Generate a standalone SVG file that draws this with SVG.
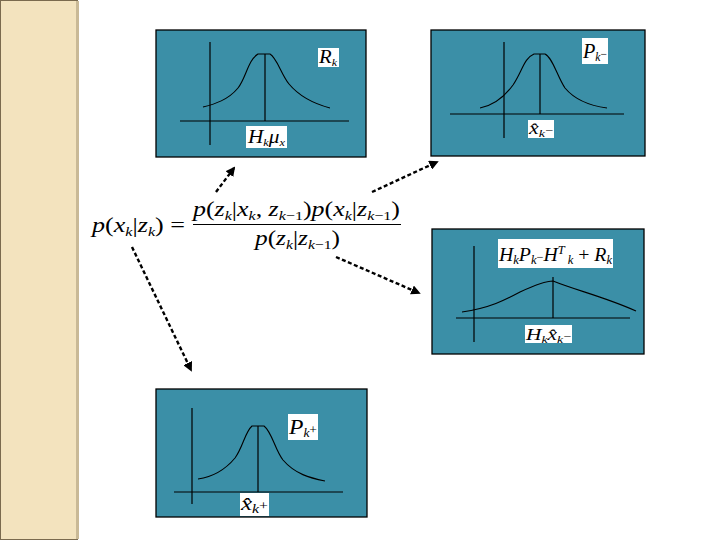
<svg xmlns="http://www.w3.org/2000/svg" width="720" height="540" viewBox="0 0 720 540">
<defs>
<marker id="ah" viewBox="0 0 10 10" refX="8" refY="5" markerWidth="4" markerHeight="4" orient="auto" markerUnits="strokeWidth">
<path d="M0,0 L10,5 L0,10 z" fill="#000"/>
</marker>
<style>
.box{fill:#3B8FA7;stroke:#000;stroke-width:1.3}
.ax{fill:none;stroke:#000;stroke-width:1.2}
.cv{fill:none;stroke:#000;stroke-width:1.1}
.lb{fill:#fff;stroke:none}
.m{font-family:"Liberation Serif","DejaVu Serif",serif;fill:#000}
.i{font-style:italic}
.conn{fill:none;stroke:#000;stroke-width:2.4;stroke-dasharray:4 2.5;marker-end:url(#ah)}
</style>
</defs>
<rect x="0" y="0" width="720" height="540" fill="#fff"/>
<g id="sidebar">
<rect x="0.5" y="0.5" width="77" height="539" fill="#F3E3BE" stroke="#7A6A4E" stroke-width="1"/>
<rect x="76" y="1" width="3" height="538" fill="#C9B996"/>
</g>
<g id="formula" class="m">
<text x="92" y="232" font-size="21" textLength="93" lengthAdjust="spacingAndGlyphs"><tspan class="i">p</tspan>(<tspan class="i">x</tspan><tspan class="i" font-size="13" dy="4">k</tspan><tspan dy="-4">|</tspan><tspan class="i">z</tspan><tspan class="i" font-size="13" dy="4">k</tspan><tspan dy="-4">) =</tspan></text>
<text x="193" y="216" font-size="21" textLength="207" lengthAdjust="spacingAndGlyphs"><tspan class="i">p</tspan>(<tspan class="i">z</tspan><tspan class="i" font-size="13" dy="4">k</tspan><tspan dy="-4">|</tspan><tspan class="i">x</tspan><tspan class="i" font-size="13" dy="4">k</tspan><tspan dy="-4">, </tspan><tspan class="i">z</tspan><tspan font-size="13" dy="4"><tspan class="i">k</tspan>−1</tspan><tspan dy="-4">)</tspan><tspan class="i">p</tspan>(<tspan class="i">x</tspan><tspan class="i" font-size="13" dy="4">k</tspan><tspan dy="-4">|</tspan><tspan class="i">z</tspan><tspan font-size="13" dy="4"><tspan class="i">k</tspan>−1</tspan><tspan dy="-4">)</tspan></text>
<line x1="193" y1="224.5" x2="401" y2="224.5" stroke="#000" stroke-width="1.2"/>
<text x="255" y="245" font-size="21" textLength="85" lengthAdjust="spacingAndGlyphs"><tspan class="i">p</tspan>(<tspan class="i">z</tspan><tspan class="i" font-size="13" dy="4">k</tspan><tspan dy="-4">|</tspan><tspan class="i">z</tspan><tspan font-size="13" dy="4"><tspan class="i">k</tspan>−1</tspan><tspan dy="-4">)</tspan></text>
</g>
<g id="box-Rk">
<rect class="box" x="156" y="30" width="210" height="127"/>
<line class="ax" x1="210" y1="42" x2="210" y2="145"/>
<line class="ax" x1="180" y1="121" x2="349" y2="121"/>
<line class="ax" x1="265" y1="54" x2="265" y2="121"/>
<path class="cv" d="M203,107 C215,104 228,100 238,88 C246,78 248,60 258,54 L270,54 C277,58 281,74 289,84 C299,96 315,104 330,108"/>
<rect class="lb" x="318" y="48" width="21" height="19"/>
<text class="m i" x="319" y="63" font-size="19" textLength="18" lengthAdjust="spacingAndGlyphs">R<tspan font-size="11" dy="3">k</tspan></text>
<rect class="lb" x="246" y="126" width="41" height="22"/>
<text class="m i" x="248" y="143" font-size="19" textLength="37" lengthAdjust="spacingAndGlyphs">H<tspan font-size="11" dy="3">k</tspan><tspan dy="-3">μ</tspan><tspan font-size="11" dy="3">x</tspan></text>
</g>
<g id="box-Pk-minus">
<rect class="box" x="431" y="30" width="214" height="126"/>
<line class="ax" x1="504" y1="42" x2="504" y2="138"/>
<line class="ax" x1="450" y1="114" x2="624" y2="114"/>
<line class="ax" x1="540" y1="54" x2="540" y2="114"/>
<path class="cv" d="M480,108 C495,105 505,96 513,85 C522,72 524,58 534,54 L545,54 C553,58 557,76 565,88 C575,100 592,106 607,108"/>
<rect class="lb" x="582" y="38" width="26" height="26"/>
<text class="m i" x="583" y="58" font-size="21" textLength="24" lengthAdjust="spacingAndGlyphs">P<tspan font-size="12" dy="3">k</tspan><tspan font-style="normal" font-size="12" dy="-3">−</tspan></text>
<rect class="lb" x="528" y="120" width="26" height="18"/>
<text class="m i" x="529" y="134" font-size="17" textLength="24" lengthAdjust="spacingAndGlyphs">x̂<tspan font-size="11" dy="3">k</tspan><tspan font-style="normal" font-size="11" dy="-3">−</tspan></text>
</g>
<g id="box-innovation">
<rect class="box" x="432" y="229" width="212" height="125"/>
<line class="ax" x1="474" y1="246" x2="474" y2="342"/>
<line class="ax" x1="456" y1="318" x2="630" y2="318"/>
<line class="ax" x1="553" y1="277" x2="553" y2="318"/>
<path class="cv" d="M462,312 C490,308 505,300 520,292 C535,285 545,281 553,281 C575,290 605,297 636,311"/>
<rect class="lb" x="498" y="239" width="115" height="29"/>
<text class="m i" x="499" y="261" font-size="19" textLength="113" lengthAdjust="spacingAndGlyphs">H<tspan font-size="12" dy="3">k</tspan><tspan dy="-3">P</tspan><tspan font-size="12" dy="3">k</tspan><tspan font-style="normal" font-size="12" dy="-3">−</tspan><tspan>H</tspan><tspan font-size="12" dy="-7">T</tspan><tspan font-size="12" dy="10"> k</tspan><tspan font-style="normal" dy="-3"> + </tspan><tspan>R</tspan><tspan font-size="12" dy="3">k</tspan></text>
<rect class="lb" x="525" y="325" width="47" height="18"/>
<text class="m i" x="526" y="340" font-size="17" textLength="45" lengthAdjust="spacingAndGlyphs">H<tspan font-size="11" dy="3">k</tspan><tspan dy="-3">x̂</tspan><tspan font-size="11" dy="3">k</tspan><tspan font-style="normal" font-size="11" dy="-3">−</tspan></text>
</g>
<g id="box-Pk-plus">
<rect class="box" x="156" y="389" width="211" height="128"/>
<line class="ax" x1="192" y1="408" x2="192" y2="504"/>
<line class="ax" x1="174" y1="492" x2="343" y2="492"/>
<line class="ax" x1="258" y1="426" x2="258" y2="492"/>
<path class="cv" d="M198,479 C212,477 225,470 235,458 C243,447 245,432 252,426 L264,426 C272,432 275,450 283,460 C295,474 310,478 325,481"/>
<rect class="lb" x="288" y="414" width="30" height="26"/>
<text class="m i" x="289" y="434" font-size="21" textLength="28" lengthAdjust="spacingAndGlyphs">P<tspan font-size="12" dy="3">k</tspan><tspan font-style="normal" font-size="12" dy="-3">+</tspan></text>
<rect class="lb" x="240" y="493" width="29" height="23"/>
<text class="m i" x="241" y="510" font-size="19" textLength="27" lengthAdjust="spacingAndGlyphs">x̂<tspan font-size="12" dy="3">k</tspan><tspan font-style="normal" font-size="12" dy="-3">+</tspan></text>
</g>
<g id="connectors">
<line class="conn" x1="216" y1="192" x2="234" y2="168"/>
<line class="conn" x1="372" y1="192" x2="437" y2="162"/>
<line class="conn" x1="336" y1="257" x2="419" y2="293"/>
<line class="conn" x1="132" y1="247" x2="191" y2="370"/>
</g>
</svg>
